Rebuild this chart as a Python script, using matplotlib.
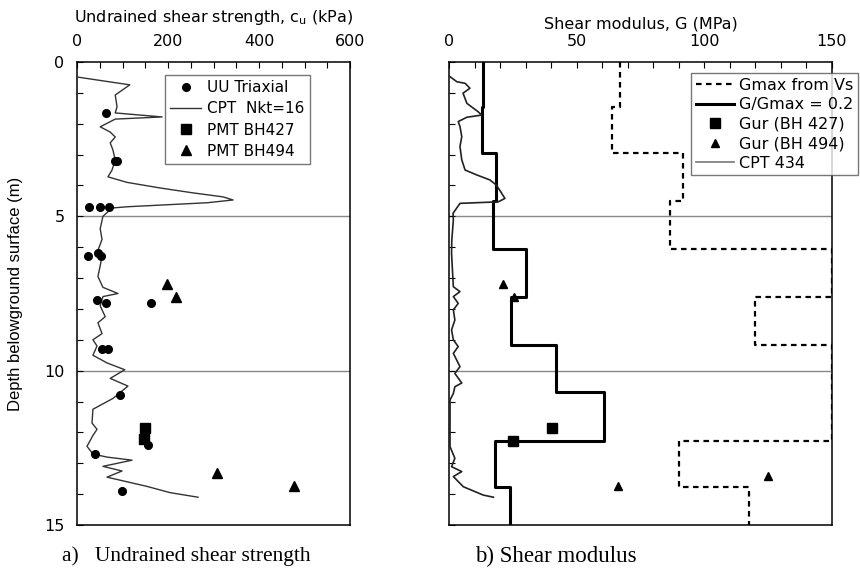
import numpy as np
import matplotlib
matplotlib.use("Agg")
import matplotlib.pyplot as plt
from matplotlib.ticker import MultipleLocator

plt.rcParams['font.family'] = ['DejaVu Sans']

# ---- a) undrained shear strength ----
uu_cu = [64, 84, 88, 26, 51, 70, 24, 46, 53, 44, 64, 163, 55, 68, 94, 40, 156, 99]
uu_depth = [1.65, 3.2, 3.2, 4.7, 4.7, 4.7, 6.3, 6.2, 6.3, 7.7, 7.8, 7.8, 9.3, 9.3, 10.8, 12.7, 12.4, 13.9]

pmt427_cu = [149, 147]
pmt427_depth = [11.85, 12.2]
pmt494_cu = [198, 218, 308, 477]
pmt494_depth = [7.2, 7.6, 13.3, 13.75]

cpt_depth = [0.49, 0.74, 1.07, 1.45, 1.65, 1.78, 1.85, 2.1, 2.27, 2.43, 2.62, 2.85, 3.17,
             3.5, 3.72, 3.9, 4.08, 4.24, 4.37, 4.47, 4.56, 4.69, 4.73, 5.0, 5.4, 5.75,
             6.1, 6.3, 6.6, 6.95, 7.3, 7.5, 7.6, 7.9, 8.25, 8.45, 8.8, 9.0, 9.2, 9.5,
             9.75, 9.97, 10.25, 10.5, 10.9, 11.25, 11.7, 11.9, 12.1, 12.45, 12.7, 12.8,
             12.9, 13.1, 13.25, 13.45, 13.6, 13.75, 13.95, 14.1]
cpt_cu = [2, 116, 84, 88, 84, 187, 84, 51, 73, 84, 73, 79, 84,
          77, 68, 110, 182, 255, 321, 343, 286, 110, 77, 57, 51, 55,
          46, 55, 51, 46, 57, 90, 57, 51, 62, 46, 55, 35, 44, 35,
          66, 105, 73, 112, 79, 35, 33, 44, 35, 22, 35, 66,
          121, 57, 99, 66, 110, 154, 204, 266]

# ---- b) shear modulus ----
gmax_tops = [0, 1.45, 2.95, 4.5, 6.05, 7.6, 9.17, 12.27, 13.77]
gmax_vals = [67, 64, 91.6, 86.5, 150, 120, 150, 90, 117.5]

g02_tops = [0, 1.45, 2.95, 4.5, 6.05, 7.6, 9.17, 10.7, 12.27, 13.77]
g02_vals = [13.4, 12.9, 18.6, 17.3, 30.3, 24.2, 42, 60.7, 18, 23.7]

gur427_g = [40.3, 25]
gur427_depth = [11.85, 12.27]
gur494_g = [21.2, 25.5, 66, 125]
gur494_depth = [7.2, 7.6, 13.75, 13.4]

cpt434_depth = [0.47, 0.64, 0.69, 0.85, 1.01, 1.34, 1.61, 1.72, 1.79, 1.93, 2.09, 2.42,
                2.74, 3.17, 3.5, 3.66, 3.82, 3.99, 4.42, 4.53, 4.58, 4.9, 5.12, 5.77,
                6.2, 7.28, 7.44, 7.6, 7.82, 8.03, 8.36, 8.68, 9.0, 9.22, 9.44, 9.87,
                10.09, 10.4, 10.52, 10.74, 10.95, 11.6, 12.46, 12.84, 13.11, 13.27,
                13.43, 13.76, 14.03, 14.1]
cpt434_g = [0.3, 3.1, 6.3, 8.2, 5.5, 7.0, 11.4, 12.8, 7.0, 3.6, 4.3, 5.0,
            4.3, 5.0, 6.3, 10.9, 16.0, 18.6, 21.9, 19.3, 4.3, 1.6, 1.7, 1.1,
            1.0, 1.7, 4.3, 1.7, 3.6, 1.7, 2.3, 1.0, 1.7, 3.6, 1.7, 4.3,
            2.3, 5.0, 2.3, 1.7, 0.4, 0.4, 0.4, 2.3, 1.0, 5.0,
            1.7, 5.6, 13.4, 17.4]


def steps(tops, vals, bottom=15):
    xs, ys = [], []
    bots = list(tops[1:]) + [bottom]
    for t, b, v in zip(tops, bots, vals):
        xs += [v, v]
        ys += [t, b]
    return xs, ys


fig = plt.figure(figsize=(8.6, 5.7), dpi=100)
W, H = 860, 570
ax1 = fig.add_axes([77 / W, 1 - 525 / H, 273 / W, 463 / H])
ax2 = fig.add_axes([449 / W, 1 - 525 / H, 383 / W, 463 / H])

for ax in (ax1, ax2):
    ax.set_ylim(15, 0)
    ax.xaxis.set_ticks_position('top')
    ax.xaxis.set_label_position('top')
    ax.tick_params(axis='both', which='both', direction='in', length=4, width=0.8,
                   labelsize=11.5, pad=9)
    ax.tick_params(axis='y', which='both', right=False)
    ax.tick_params(axis='x', which='both', bottom=False)
    ax.yaxis.set_minor_locator(MultipleLocator(1))
    for s in ax.spines.values():
        s.set_linewidth(1.1)
    ax.axhline(5, color='#888888', lw=1, zorder=1)
    ax.axhline(10, color='#888888', lw=1, zorder=1)

# left panel
ax1.set_xlim(0, 600)
ax1.set_xticks([0, 200, 400, 600])
ax1.xaxis.set_minor_locator(MultipleLocator(50))
ax1.set_yticks([0, 5, 10, 15])
ax1.set_xlabel(r'Undrained shear strength, c$_\mathregular{u}$ (kPa)', fontsize=11.5, labelpad=9)
ax1.set_ylabel('Depth belowground surface (m)', fontsize=12, family='Liberation Sans', labelpad=15)

ax1.plot(uu_cu, uu_depth, 'o', color='black', ms=5.5, label='UU Triaxial', zorder=4)
ax1.plot(cpt_cu, cpt_depth, '-', color='#333333', lw=1.0, label='CPT  Nkt=16', zorder=3)
ax1.plot(pmt427_cu, pmt427_depth, 's', color='black', ms=6.5, label='PMT BH427', zorder=4)
ax1.plot(pmt494_cu, pmt494_depth, '^', color='black', ms=7, label='PMT BH494', zorder=4)

leg1 = ax1.legend(loc='upper left', bbox_to_anchor=(165 / W, 1 - 75 / H),
                  bbox_transform=fig.transFigure, fontsize=11, frameon=True,
                  fancybox=False, edgecolor='#555555', handlelength=2.0,
                  labelspacing=0.4, borderpad=0.35, handletextpad=0.4, borderaxespad=0)
leg1.get_frame().set_linewidth(1.0)

# right panel
ax2.set_xlim(0, 150)
ax2.set_xticks([0, 50, 100, 150])
ax2.xaxis.set_minor_locator(MultipleLocator(10))
ax2.set_yticks([0, 5, 10, 15])
ax2.tick_params(axis='y', labelleft=False)
ax2.set_xlabel('Shear modulus, G (MPa)', fontsize=11.5, labelpad=4)

gx, gy = steps(gmax_tops, gmax_vals)
ax2.plot(gx, gy, color='black', lw=1.6, ls=(0, (2.5, 2)), label='Gmax from Vs', zorder=3)
sx, sy = steps(g02_tops, g02_vals)
ax2.plot(sx, sy, color='black', lw=2.2, label='G/Gmax = 0.2', zorder=3)
ax2.plot(gur427_g, gur427_depth, 's', color='black', ms=6.5, label='Gur (BH 427)', zorder=4)
ax2.plot(gur494_g, gur494_depth, '^', color='black', ms=6, label='Gur (BH 494)', zorder=4)
ax2.plot(cpt434_g, cpt434_depth, '-', color='#222222', lw=1.2, label='CPT 434', zorder=3)

leg2 = ax2.legend(loc='upper left', bbox_to_anchor=(691 / W, 1 - 73 / H),
                  bbox_transform=fig.transFigure, fontsize=11.5, frameon=True,
                  fancybox=False, edgecolor='#555555', handlelength=2.4,
                  labelspacing=0.28, borderpad=0.3, handletextpad=0.3, borderaxespad=0)
leg2.get_frame().set_linewidth(1.0)
leg2.get_lines()[4].set_color('#777777')

fig.text(62 / W, 1 - 556 / H, 'a)   Undrained shear strength', family='Liberation Serif',
         fontsize=15.5, va='center', ha='left')
fig.text(475 / W, 1 - 556 / H, 'b) Shear modulus', family='Liberation Serif',
         fontsize=16.5, va='center', ha='left')

fig.savefig('out.png', dpi=100)
